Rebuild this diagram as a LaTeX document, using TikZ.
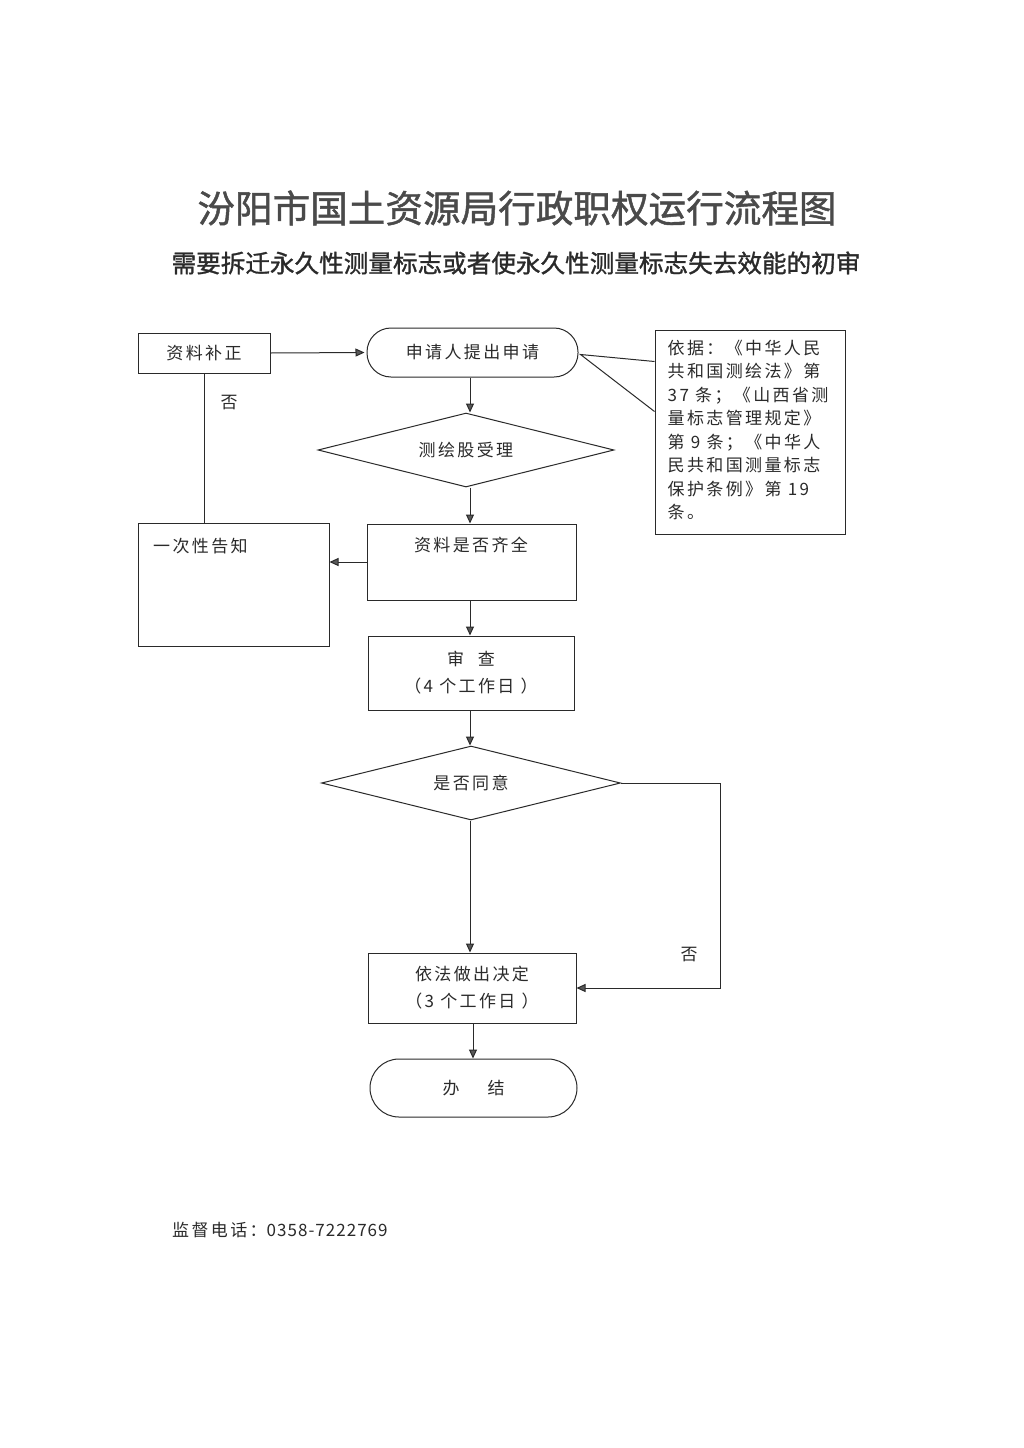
\documentclass[tikz,border=0pt]{standalone}
\usepackage{fontspec}
\usetikzlibrary{shapes.geometric,arrows.meta,calc}
\newfontfamily\cjk[LetterSpace=14]{Noto Sans CJK SC}
\newfontfamily\cjkn[LetterSpace=6]{Noto Sans CJK SC}
\newfontfamily\cjkb[FakeBold=1.2]{Noto Sans CJK SC}
\definecolor{ink}{HTML}{2A2A2A}
\tikzset{
  box/.style={draw=ink, line width=1pt, inner sep=0pt},
  rbox/.style={box, rounded corners=24pt},
  dia/.style={draw=ink, line width=1pt, diamond, inner sep=0pt},
  txt/.style={text=ink, font=\cjk\fontsize{17}{20}\selectfont, inner sep=0pt},
  conn/.style={draw=ink, line width=1pt},
  arr/.style={conn, -{Triangle[width=8pt,length=9pt,fill=gray!70!black]}},
}
\begin{document}
\begin{tikzpicture}[x=1pt,y=-1pt]
\useasboundingbox (0,0) rectangle (1024,1448);
\fill[white] (0,0) rectangle (1024,1448);

% titles
\node[text=ink!85, inner sep=0pt, font=\cjkb\fontsize{37.6}{42}\selectfont] (title) at (517,208) {汾阳市国土资源局行政职权运行流程图};
\node[text=ink, inner sep=0pt, font=\cjkb\fontsize{24.6}{28}\selectfont] (sub) at (516,263) {需要拆迁永久性测量标志或者使永久性测量标志失去效能的初审};

% nodes
\node[box, minimum width=132pt, minimum height=40pt] (zlbz) at (204,353) {};
\node[txt] at (zlbz.center) {资料补正};
\node[rbox, minimum width=211pt, minimum height=49pt] (req) at (472.5,352.5) {};
\node[txt] at (req.center) {申请人提出申请};
\node[box, minimum width=190pt, minimum height=204pt] (basis) at (750,432) {};
\node[txt, anchor=north west, align=left, font=\cjk\fontsize{17}{23.5}\selectfont] (basistxt) at ($(basis.north west)+(13,10)$) {依据：《中华人民\\共和国测绘法》第\\37 条；《山西省测\\量标志管理规定》\\第 9 条；《中华人\\民共和国测量标志\\保护条例》第 19\\条。};

\node[dia, minimum width=296pt, minimum height=74pt] (d1) at (466,450) {};
\node[txt] at (d1.center) {测绘股受理};

\node[box, minimum width=209pt, minimum height=76pt] (chk) at (471.5,562) {};
\node[txt] at (471,545) {资料是否齐全};

\node[box, minimum width=191pt, minimum height=123pt] (notify) at (233.5,584.5) {};
\node[txt, anchor=west] at (153,546) {一次性告知};

\node[box, minimum width=206pt, minimum height=74pt] (rev) at (471,673) {};
\node[txt] at (471,659) {审\hspace{14pt}查};
\node[txt] at (471,686) {（4 个工作日 ）};

\node[dia, minimum width=299pt, minimum height=74pt] (d2) at (471,783) {};
\node[txt] at (d2.center) {是否同意};

\node[box, minimum width=208pt, minimum height=70pt] (dec) at (472,988) {};
\node[txt] at (472,974) {依法做出决定};
\node[txt] at (472,1001) {（3 个工作日 ）};

\node[box, rounded corners=29pt, minimum width=207pt, minimum height=58pt] (end) at (473.5,1088) {};
\node[txt] at (end.center) {办\hspace{28pt}结};

\node[txt, anchor=west] (tel) at (172,1230) {监督电话：{\cjkn 0358-7222769}};

% connectors
\draw[arr, shorten >=2pt] (zlbz.east) -- (req.west);
\coordinate (tip) at ($(req.east)+(2,2)$);
\draw[conn] ($(basis.north west)+(0,32)$) -- (tip) -- ($(basis.north west)+(0,82)$);
\draw[arr] (req.south -| 470,0) -- (d1.north -| 470,0);
\draw[arr] (d1.south -| 470,0) -- (chk.north -| 470,0);
\draw[arr] (chk.west) -- (chk.west -| notify.east);
\draw[conn] (notify.north -| zlbz.south) -- (zlbz.south);
\node[txt] (no1) at (229,403) {否};
\draw[arr] (chk.south -| 470,0) -- (rev.north -| 470,0);
\draw[arr] (rev.south -| 470,0) -- (d2.north -| 470,0);
\draw[arr] (d2.south -| 470,0) -- (dec.north -| 470,0);
\coordinate (rt) at (720,783);
\draw[arr] (d2.east) -- (rt) -- (rt |- dec.east) -- (dec.east);
\node[txt] (no2) at (689,955) {否};
\draw[arr] (dec.south -| 473,0) -- (end.north -| 473,0);
\end{tikzpicture}
\end{document}
